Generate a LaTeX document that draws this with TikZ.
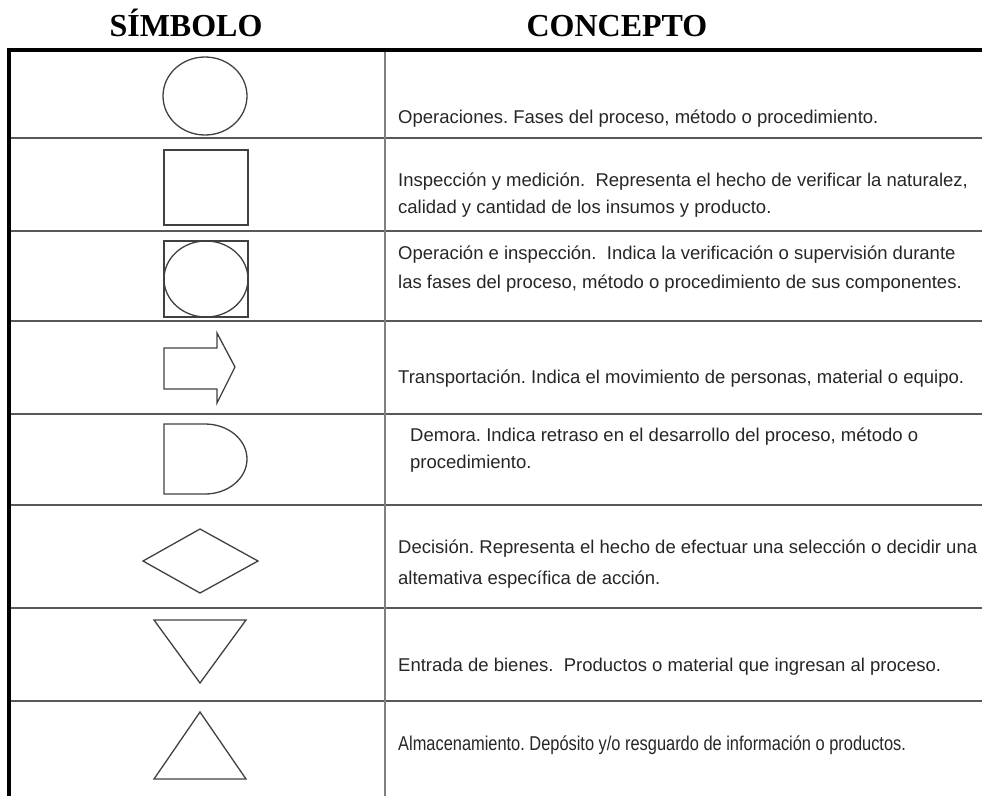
\documentclass[tikz,border=0pt]{standalone}
\usepackage{fontspec}
\setmainfont{Liberation Sans}
\newfontfamily\headfont{Liberation Serif}
\newfontfamily\condfont[FakeStretch=0.82]{Liberation Sans}
\frenchspacing
\begin{document}
\begin{tikzpicture}[x=1pt,y=-1pt,
  hdr/.style={font=\headfont\bfseries\fontsize{32}{38}\selectfont, anchor=base, inner sep=0pt},
  desc/.style={font=\fontsize{18.5}{22}\selectfont, text=black!85, anchor=base west, inner sep=0pt},
  cond/.style={font=\condfont\fontsize{20}{22}\selectfont, text=black!85, anchor=base west, inner sep=0pt},
  framel/.style={line width=3.5pt, black},
  rowline/.style={line width=1.5pt, black!65},
  colline/.style={line width=2pt, black!50},
  sym/.style={line width=1.3pt, black!75}]
\useasboundingbox (0,0) rectangle (982,796);
% headers
\node[hdr] (hs) at (186,36) {SÍMBOLO};
\node[hdr] (hc) at (617,36) {CONCEPTO};
% grid
\foreach \yy in {138,231,321,414,505,608,701}
  \draw[rowline] (9,\yy) -- (982,\yy);
\draw[colline] (385,50) -- (385,796);
\draw[framel] (9,796) -- (9,50) -- (982,50);
% symbols
\draw[sym] (205,96) ellipse [x radius=42, y radius=39];
\draw[sym] (164,150) rectangle (248,225);
\draw[sym] (164,241) rectangle (248,317);
\draw[sym] (206,279) ellipse [x radius=42, y radius=38];
\draw[sym] (164,348) -- (217,348) -- (217,333) -- (235,367) -- (217,403) -- (217,389) -- (164,389) -- cycle;
\draw[sym] (164,424) -- (205,424) .. controls (228.2,424) and (247,439.7) .. (247,459)
  .. controls (247,478.3) and (228.2,494) .. (205,494) -- (164,494) -- cycle;
\draw[sym] (143,561) -- (200,529) -- (258,561) -- (200,593) -- cycle;
\draw[sym] (154,620) -- (246,620) -- (200,683) -- cycle;
\draw[sym] (200,712) -- (246,779) -- (154,779) -- cycle;
% texts
\node[desc] (t1) at (398,123) {Operaciones. Fases del proceso, método o procedimiento.};
\node[desc] (t2a) at (398,186) {Inspección y medición.\ \ Representa el hecho de verificar la naturalez,};
\node[desc] (t2b) at (398,213) {calidad y cantidad de los insumos y producto.};
\node[desc] (t3a) at (398,259) {Operación e inspección.\ \ Indica la verificación o supervisión durante};
\node[desc] (t3b) at (398,288) {las fases del proceso, método o procedimiento de sus componentes.};
\node[desc] (t4) at (398,383) {Transportación. Indica el movimiento de personas, material o equipo.};
\node[desc] (t5a) at (410,441) {Demora. Indica retraso en el desarrollo del proceso, método o};
\node[desc] (t5b) at (410,468) {procedimiento.};
\node[desc] (t6a) at (398,553) {Decisión. Representa el hecho de efectuar una selección o decidir una};
\node[desc] (t6b) at (398,584) {altemativa específica de acción.};
\node[desc] (t7) at (398,671) {Entrada de bienes.\ \ Productos o material que ingresan al proceso.};
\node[cond] (t8) at (398,750) {Almacenamiento. Depósito y/o resguardo de información o productos.};
\end{tikzpicture}
\end{document}
